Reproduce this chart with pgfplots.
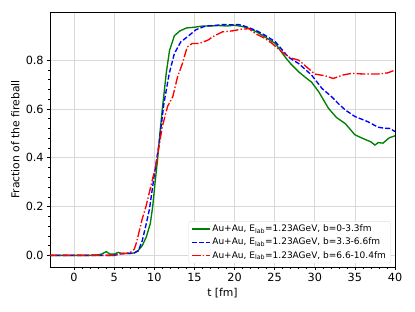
\documentclass[border=0pt]{standalone}
\usepackage{pgfplots}
\pgfplotsset{compat=1.18}
\usepackage{fontspec}
\setmainfont{DejaVu Sans}
\definecolor{mplgreen}{HTML}{008000}
\begin{document}
\begin{tikzpicture}
\begin{axis}[
  name=ax,
  scale only axis,
  width=383pt, height=283pt,
  xmin=-3, xmax=40,
  ymin=-0.0475, ymax=0.9975,
  xtick={0,5,10,15,20,25,30,35,40},
  ytick={0,0.2,0.4,0.6,0.8},
  minor x tick num=4,
  minor y tick num=4,
  xtick pos=bottom, ytick pos=left,
  tick align=outside,
  major tick length=3.5pt,
  minor tick length=2pt,
  every tick/.style={black, line width=0.6pt},
  grid=major,
  major grid style={gray!30, line width=0.8pt},
  axis line style={black, line width=0.8pt},
  /pgf/number format/assume math mode=true,
  yticklabel style={/pgf/number format/.cd, fixed, fixed zerofill, precision=1},
  ticklabel style={font=\fontsize{12.5}{14}\selectfont},
  label style={font=\fontsize{12}{14}\selectfont},
  xlabel={t [fm]},
  ylabel={Fraction of the fireball},
  legend cell align=left,
  legend style={at={(1,0)}, anchor=south east, xshift=-4.8pt, yshift=4.1pt,
    font=\fontsize{10}{12}\selectfont, draw=gray!25, fill=white,
    rounded corners=2pt, row sep=1.5pt, inner xsep=3pt, inner ysep=2pt},
  legend image code/.code={\draw[mark repeat=2,mark phase=2,#1] plot coordinates {(0pt,0pt) (10pt,0pt) (20pt,0pt)};},
]
\addplot[mplgreen, line width=1.5pt] coordinates {
(-5,0) (-3,0) (0,0) (2,0) (3,0.002) (3.5,0.006) (4,0.015) (4.5,0.005) (5,0.005) (5.5,0.012) (6,0.007) (7,0.008) (7.5,0.01) (8,0.02) (8.5,0.04) (9,0.075) (9.5,0.13) (9.8,0.2) (10.1,0.3) (10.4,0.39) (10.7,0.5) (11.0,0.6) (11.5,0.75) (11.9,0.84) (12.5,0.9) (13.2,0.92) (14,0.932) (15,0.935) (16,0.94) (17,0.94) (18,0.942) (19,0.94) (20,0.943) (21,0.938) (21.8,0.93) (22.8,0.915) (23.8,0.895) (24.5,0.88) (25.1,0.868) (25.7,0.84) (26.3,0.813) (27,0.785) (28,0.752) (29,0.725) (29.6,0.71) (30.5,0.67) (31.7,0.603) (32.7,0.565) (33.8,0.54) (35,0.494) (36.2,0.476) (37,0.465) (37.5,0.452) (37.9,0.462) (38.5,0.46) (39.3,0.482) (40,0.49)
};
\addlegendentry{Au+Au, E\textsubscript{lab}=1.23AGeV, b=0-3.3fm}
\addplot[blue, line width=1.5pt, dash pattern=on 5.55pt off 2.4pt] coordinates {
(-5,0) (5,0) (5.5,0.004) (6,0.008) (7,0.008) (7.5,0.01) (8,0.018) (8.5,0.06) (9,0.13) (9.4,0.19) (10,0.33) (10.6,0.46) (11.2,0.623) (11.86,0.745) (12.5,0.827) (13.3,0.875) (14.1,0.895) (15.2,0.925) (16.4,0.94) (17.5,0.942) (18.5,0.946) (19.5,0.945) (20.5,0.946) (21.2,0.94) (21.8,0.933) (22.8,0.92) (23.8,0.902) (25.1,0.875) (26,0.84) (26.7,0.813) (27.3,0.8) (28,0.786) (29.6,0.739) (30.9,0.684) (32.1,0.65) (33,0.62) (33.8,0.596) (35,0.569) (36.6,0.548) (37.9,0.525) (38.7,0.521) (39.4,0.52) (40,0.507)
};
\addlegendentry{Au+Au, E\textsubscript{lab}=1.23AGeV, b=3.3-6.6fm}
\addplot[red, line width=1.5pt, dash pattern=on 9.6pt off 2.4pt on 1.5pt off 2.4pt] coordinates {
(-5,0) (5,0) (5.5,0.005) (6.5,0.008) (7,0.012) (7.5,0.025) (7.8,0.055) (8.5,0.15) (9,0.205) (9.4,0.26) (10.2,0.37) (11,0.528) (11.65,0.61) (12.3,0.65) (12.9,0.732) (13.5,0.786) (14.1,0.854) (14.7,0.868) (15.6,0.868) (16.8,0.884) (17.2,0.895) (18.5,0.916) (19.7,0.92) (20.9,0.927) (21.8,0.929) (22.6,0.909) (23.8,0.889) (24.7,0.868) (25.9,0.834) (26.9,0.81) (28,0.8) (29.2,0.766) (30,0.743) (31.3,0.736) (32.3,0.725) (33.5,0.739) (34.6,0.746) (36.2,0.743) (37.9,0.743) (39.1,0.748) (40,0.759)
};
\addlegendentry{Au+Au, E\textsubscript{lab}=1.23AGeV, b=6.6-10.4fm}
\end{axis}
\pgfresetboundingbox
\path ([xshift=-55.5pt,yshift=-50pt]ax.south west) rectangle ([xshift=22.2pt,yshift=13.3pt]ax.north east);
\end{tikzpicture}
\end{document}
